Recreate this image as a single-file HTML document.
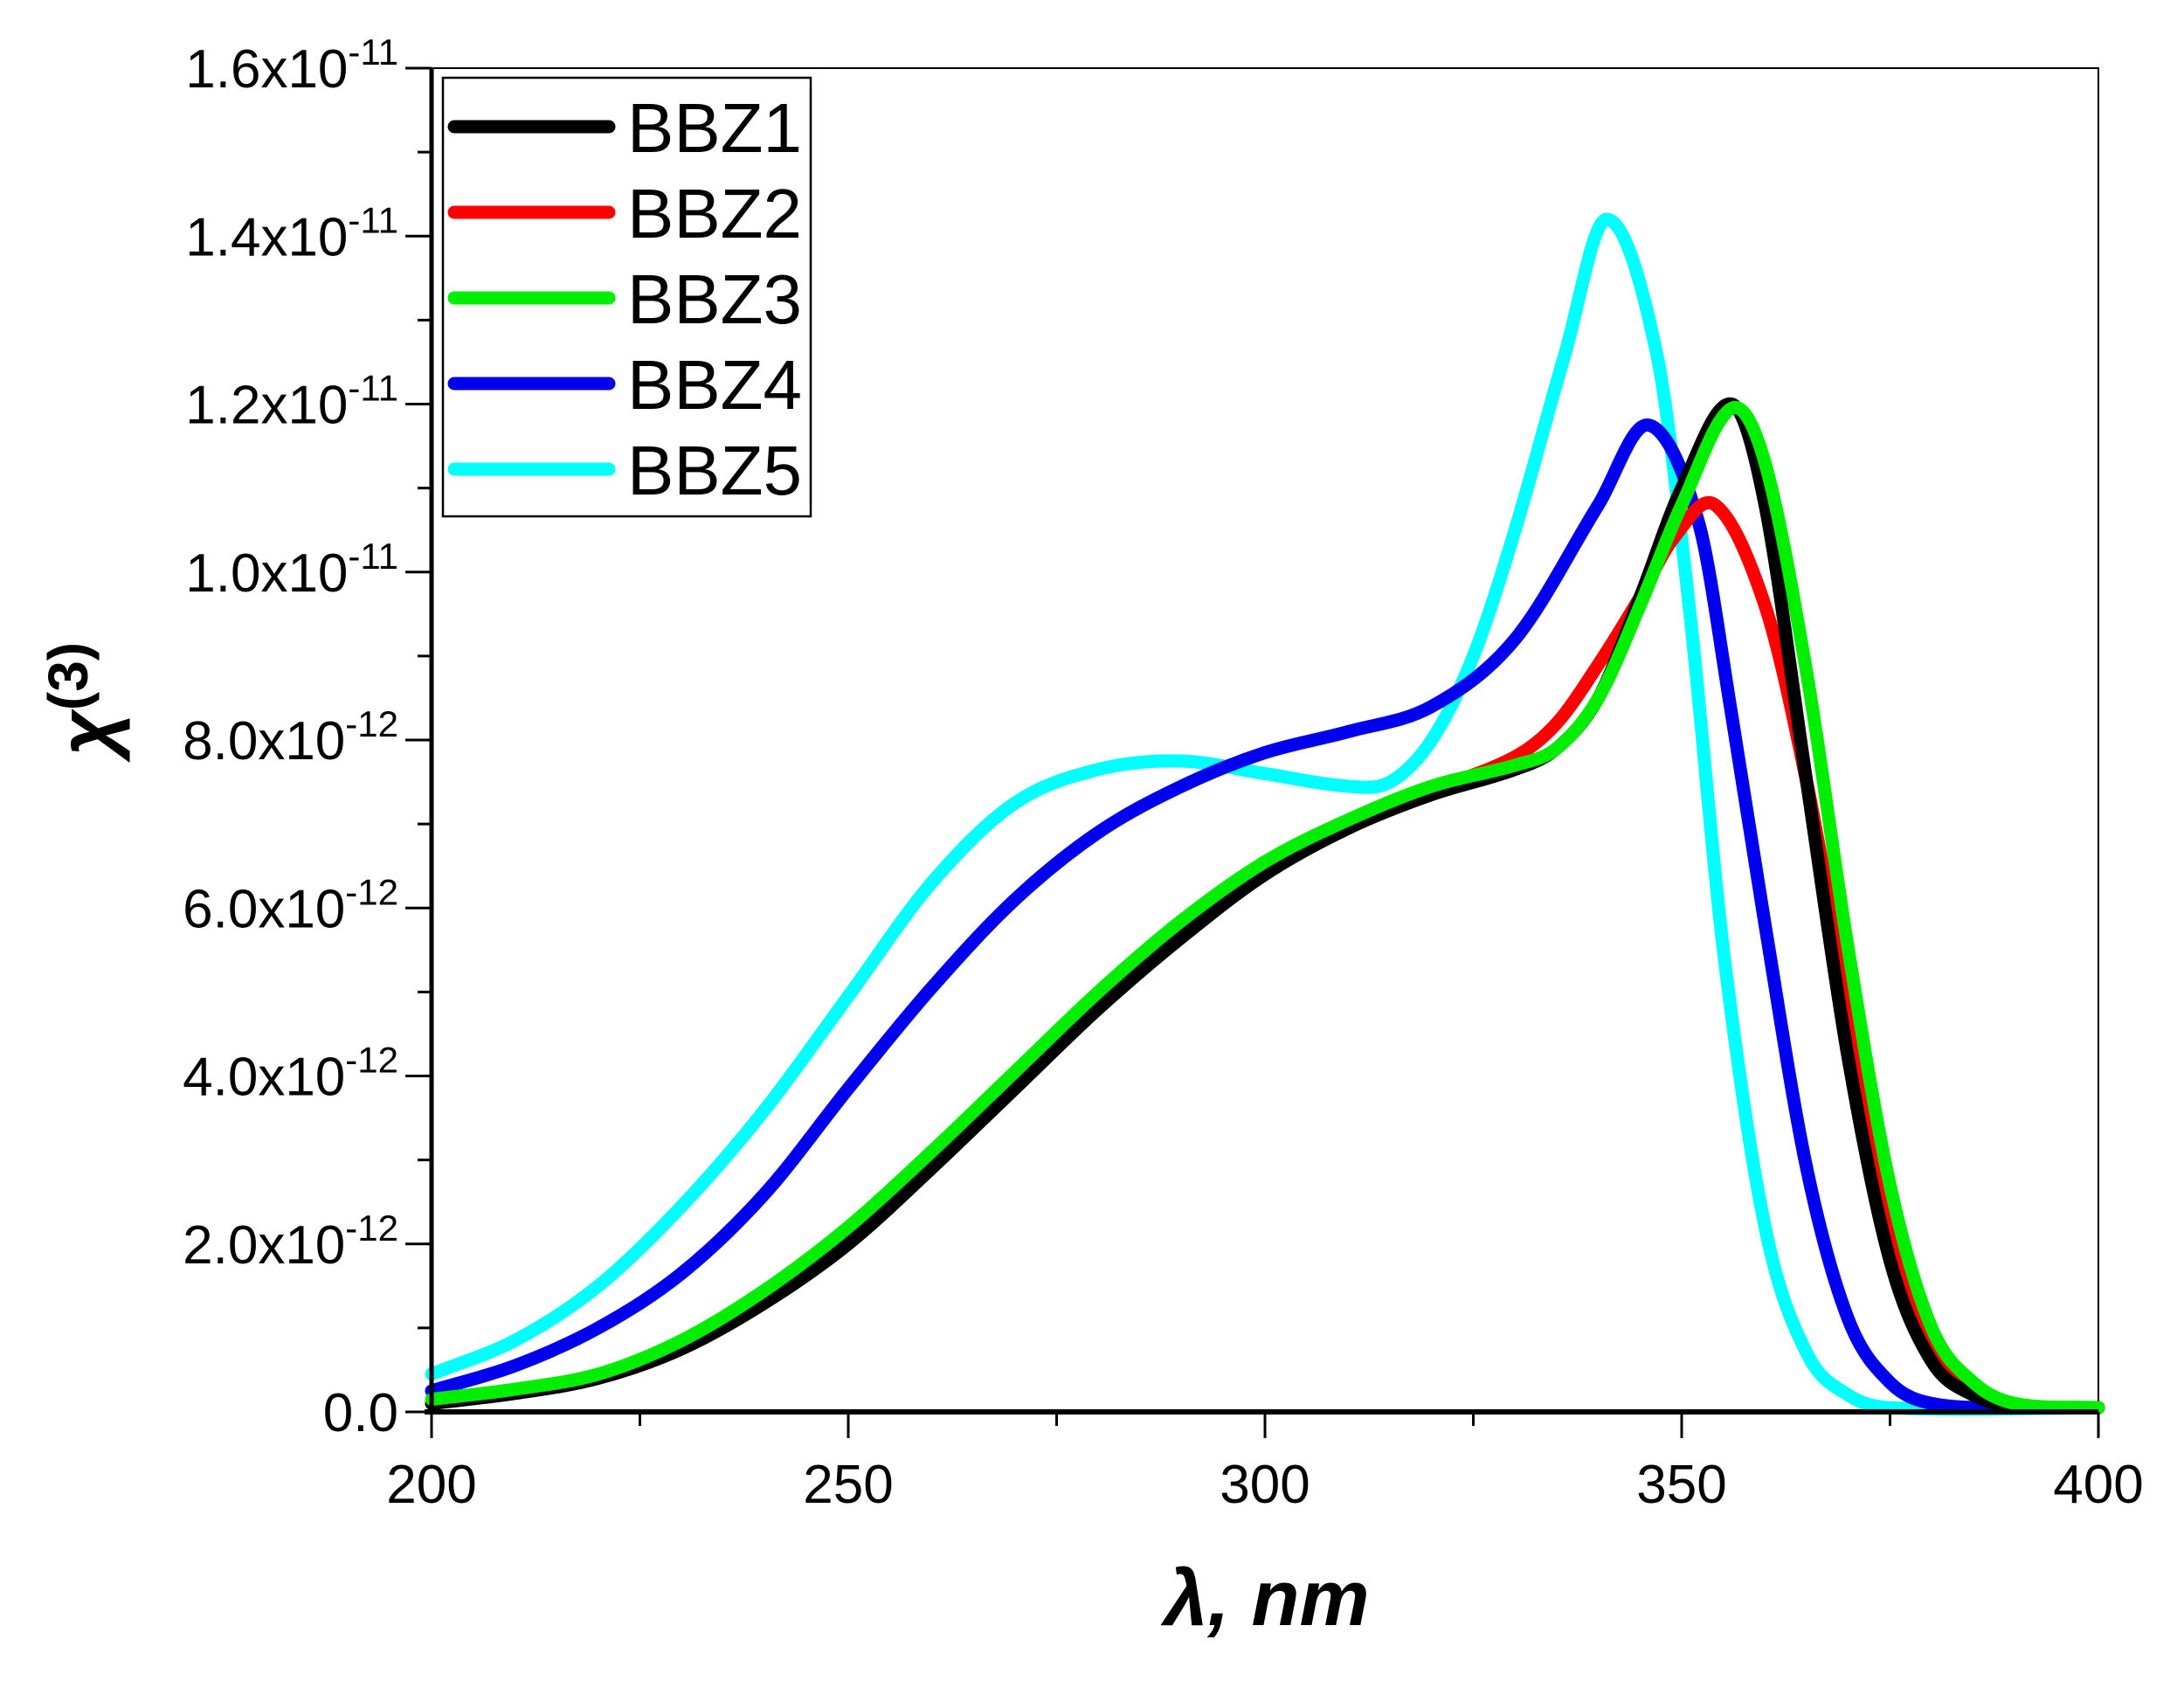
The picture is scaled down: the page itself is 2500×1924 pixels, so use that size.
<!DOCTYPE html>
<html><head><meta charset="utf-8"><style>
html,body{margin:0;padding:0;background:#fff;}
svg{display:block;font-family:"Liberation Sans",sans-serif;}
</style></head><body>
<svg id="chart" width="2500" height="1924" viewBox="0 0 2500 1924">
<g id="plot"></g>
</svg>
<script>
const xs = [200,210,220,230,240,250,260,270,280,290,300,310,320,330,335,340,345,350,356,360,365,370,375,380,385,390,400];
const bbz1 = [0.1,0.22,0.4,0.75,1.3,2.0,2.9,3.85,4.8,5.65,6.4,6.95,7.35,7.65,7.9,8.5,9.7,11.0,12.0,10.8,7.5,4.2,1.8,0.6,0.2,0.07,0.05];
const bbz3 = [0.15,0.27,0.45,0.85,1.45,2.2,3.1,4.05,5.0,5.85,6.55,7.05,7.45,7.7,7.9,8.5,9.6,10.8,11.95,11.3,8.8,5.5,2.7,1.0,0.35,0.1,0.05];
const xs2 = [200,210,220,230,240,250,260,270,280,290,300,310,320,330,335,340,345,349,354,360,365,370,375,380,385,390,400];
const bbz2 = [0.1,0.23,0.42,0.78,1.35,2.05,2.95,3.9,4.85,5.7,6.45,6.98,7.4,7.8,8.2,8.9,9.7,10.4,10.8,9.6,7.5,4.8,2.3,0.8,0.25,0.08,0.05];
const xs4 = [200,210,220,230,240,250,260,270,280,290,300,310,320,330,340,346,352,356,360,365,370,375,380,390,400];
const bbz4 = [0.25,0.55,1.0,1.65,2.6,3.85,5.05,6.1,6.9,7.45,7.85,8.1,8.4,9.2,10.8,11.75,10.6,8.3,5.8,2.9,1.1,0.35,0.1,0.05,0.05];
const xs5 = [200,210,220,230,240,250,260,270,280,290,300,310,315,320,325,330,336,341,347,351,355,360,365,370,375,400];
const bbz5 = [0.45,0.85,1.5,2.45,3.6,4.95,6.3,7.25,7.65,7.75,7.6,7.45,7.5,8.0,9.0,10.5,12.6,14.2,12.6,9.5,5.5,2.2,0.7,0.2,0.05,0.05];
const xTicks = [200,250,300,350,400];
const yTicks = [0,2,4,6,8,10,12,14,16];
const yTickLabels = ["0.0","2.0x10","4.0x10","6.0x10","8.0x10","1.0x10","1.2x10","1.4x10","1.6x10"];
const yTickExp = ["","-12","-12","-12","-12","-11","-11","-11","-11"];
const seriesNames = ["BBZ1","BBZ2","BBZ3","BBZ4","BBZ5"];
const seriesColors = ["#000000","#ff0000","#00ee00","#0000ee","#00ffff"];

const L=494,R=2402,T=78,B=1616;
const X=v=>L+(v-200)/200*(R-L);
const Y=v=>B-v/16*(B-T);
const NS="http://www.w3.org/2000/svg";
const g=document.getElementById('plot');
function mk(tag,attrs,parent){const e=document.createElementNS(NS,tag);for(const k in attrs)e.setAttribute(k,attrs[k]);(parent||g).appendChild(e);return e;}
function path(xv,yv){
  const p=xv.map((x,i)=>[X(x),Y(yv[i])]);
  let d=`M${p[0][0]},${p[0][1]}`;
  for(let i=0;i<p.length-1;i++){
    const p0=p[Math.max(i-1,0)],p1=p[i],p2=p[i+1],p3=p[Math.min(i+2,p.length-1)];
    const h=p2[0]-p1[0];
    const s1=(p2[1]-p0[1])/(p2[0]-p0[0]||1), s2=(p3[1]-p1[1])/(p3[0]-p1[0]||1);
    const c1=[p1[0]+h/3,p1[1]+s1*h/3];
    const c2=[p2[0]-h/3,p2[1]-s2*h/3];
    d+=` C${c1[0]},${c1[1]} ${c2[0]},${c2[1]} ${p2[0]},${p2[1]}`;
  }
  return d;
}
const fr=mk('rect',{x:L,y:T,width:R-L,height:B-T,fill:'none',stroke:'#000','stroke-width':2});


const data=[[xs,bbz1],[xs2,bbz2],[xs,bbz3],[xs4,bbz4],[xs5,bbz5]];
const order=[4,3,1,0,2];
order.forEach(i=>{
  const p=mk('path',{d:path(data[i][0],data[i][1]),fill:'none',stroke:seriesColors[i],'stroke-width':15,'stroke-linejoin':'round','stroke-linecap':'round'});
  
  
});
const ax1=mk('line',{x1:L,y1:T,x2:L,y2:B+2,stroke:'#000','stroke-width':5});


const ax2=mk('line',{x1:L-8,y1:B,x2:R,y2:B,stroke:'#000','stroke-width':6});


for(let v=200;v<=400;v+=25){
  const major=v%50===0;
  const t=mk('line',{x1:X(v),y1:B,x2:X(v),y2:B+(major?30:16),stroke:'#000','stroke-width':3});
  
  
}
xTicks.forEach(v=>{
  const t=mk('text',{x:X(v),y:B+104,'text-anchor':'middle','font-size':62});
  t.textContent=v;
  
  
});
for(let v=0;v<=16;v+=1){
  const major=v%2===0;
  const t=mk('line',{x1:L-(major?30:16),y1:Y(v),x2:L,y2:Y(v),stroke:'#000','stroke-width':3});
  
  
}
yTicks.forEach((v,i)=>{
  const t=mk('text',{x:456,y:Y(v)+22,'text-anchor':'end','font-size':62});
  t.textContent=yTickLabels[i];
  if(yTickExp[i]){const s=mk('tspan',{dy:-26,'font-size':42},t);s.textContent=yTickExp[i];}
  
  
});
const xt=mk('text',{x:1450,y:1860,'text-anchor':'middle','font-size':90,'font-weight':'bold','font-style':'italic'});
xt.textContent='λ, nm';


const yt=mk('text',{transform:'translate(130,800) rotate(-90)','text-anchor':'middle','font-size':90,'font-weight':'bold','font-style':'italic'});
yt.textContent='χ';
const ys=mk('tspan',{dy:-30,'font-size':64,'font-style':'normal'},yt);ys.textContent='(3)';


const lg=mk('g',{});


mk('rect',{x:507,y:89,width:421,height:502,fill:'#fff',stroke:'#000','stroke-width':2.5},lg);
seriesNames.forEach((n,i)=>{
  const y=145+i*98;
  const e=mk('g',{},lg);
  
  
  mk('line',{x1:520,y1:y,x2:697,y2:y,stroke:seriesColors[i],'stroke-width':15,'stroke-linecap':'round'},e);
  const t=mk('text',{x:718,y:y+29,'font-size':80,textLength:200,lengthAdjust:'spacingAndGlyphs'},e);t.textContent=n;
});
</script>
</body></html>
